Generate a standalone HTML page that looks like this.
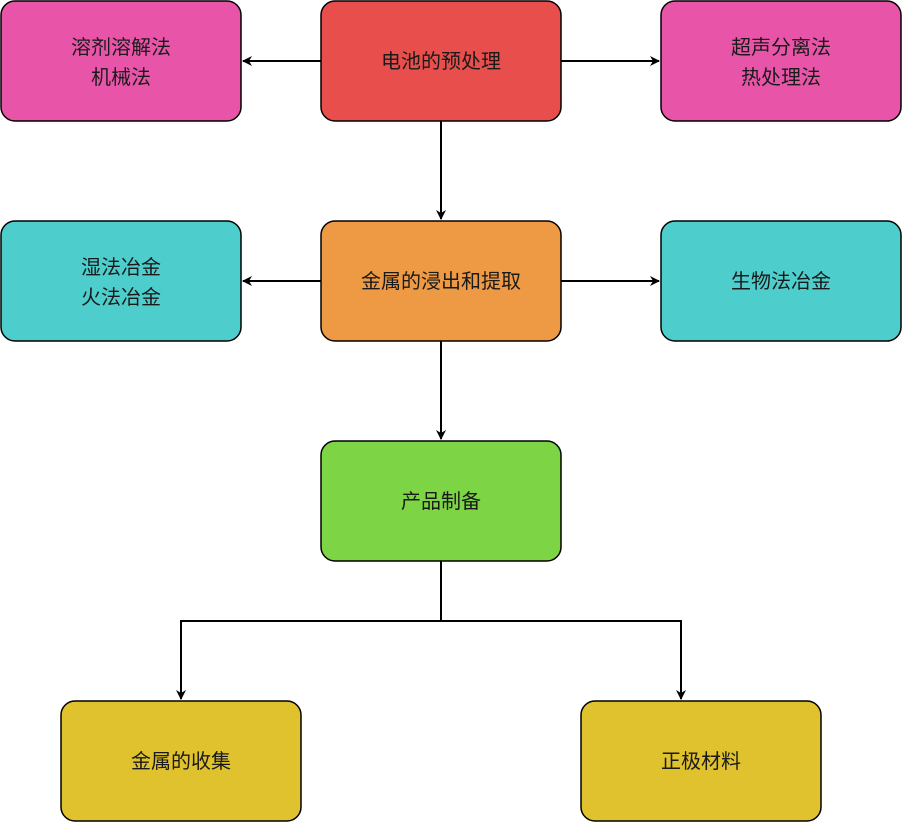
<!DOCTYPE html>
<html><head><meta charset="utf-8"><style>body{margin:0;background:#fff}svg{display:block}</style></head><body>
<svg width="902" height="822" viewBox="0 0 902 822" xmlns="http://www.w3.org/2000/svg" font-family="Liberation Sans, Noto Sans CJK SC, sans-serif" font-size="20" fill="#1a1a1a">
<defs><marker id="a" markerWidth="10" markerHeight="10" refX="9" refY="5" orient="auto" markerUnits="userSpaceOnUse"><path d="M0,0 L10,5 L0,10 L3,5 Z" fill="#000"/></marker></defs>
<g stroke="#000" stroke-width="2" fill="none">
<line x1="321" y1="61" x2="243" y2="61" marker-end="url(#a)"/>
<line x1="561" y1="61" x2="659" y2="61" marker-end="url(#a)"/>
<line x1="441" y1="121" x2="441" y2="219" marker-end="url(#a)"/>
<line x1="321" y1="281" x2="243" y2="281" marker-end="url(#a)"/>
<line x1="561" y1="281" x2="659" y2="281" marker-end="url(#a)"/>
<line x1="441" y1="341" x2="441" y2="439" marker-end="url(#a)"/>
<polyline points="441,561 441,621 181,621 181,699" marker-end="url(#a)"/>
<polyline points="441,621 681,621 681,699" marker-end="url(#a)"/>
</g>
<g stroke="#000" stroke-width="1.5">
<rect x="1" y="1" width="240" height="120" rx="14" fill="#E855A8"/>
<rect x="321" y="1" width="240" height="120" rx="14" fill="#E74E4C"/>
<rect x="661" y="1" width="240" height="120" rx="14" fill="#E855A8"/>
<rect x="1" y="221" width="240" height="120" rx="14" fill="#4ECDCD"/>
<rect x="321" y="221" width="240" height="120" rx="14" fill="#EE9944"/>
<rect x="661" y="221" width="240" height="120" rx="14" fill="#4ECDCD"/>
<rect x="321" y="441" width="240" height="120" rx="14" fill="#7DD444"/>
<rect x="61" y="701" width="240" height="120" rx="14" fill="#E0C22E"/>
<rect x="581" y="701" width="240" height="120" rx="14" fill="#E0C22E"/>
</g>
<g text-anchor="middle">
<text x="121" y="54">溶剂溶解法</text><text x="121" y="84">机械法</text>
<text x="441" y="68">电池的预处理</text>
<text x="781" y="54">超声分离法</text><text x="781" y="84">热处理法</text>
<text x="121" y="274">湿法冶金</text><text x="121" y="304">火法冶金</text>
<text x="441" y="288">金属的浸出和提取</text>
<text x="781" y="288">生物法冶金</text>
<text x="441" y="508">产品制备</text>
<text x="181" y="768">金属的收集</text>
<text x="701" y="768">正极材料</text>
</g>
</svg>
</body></html>
